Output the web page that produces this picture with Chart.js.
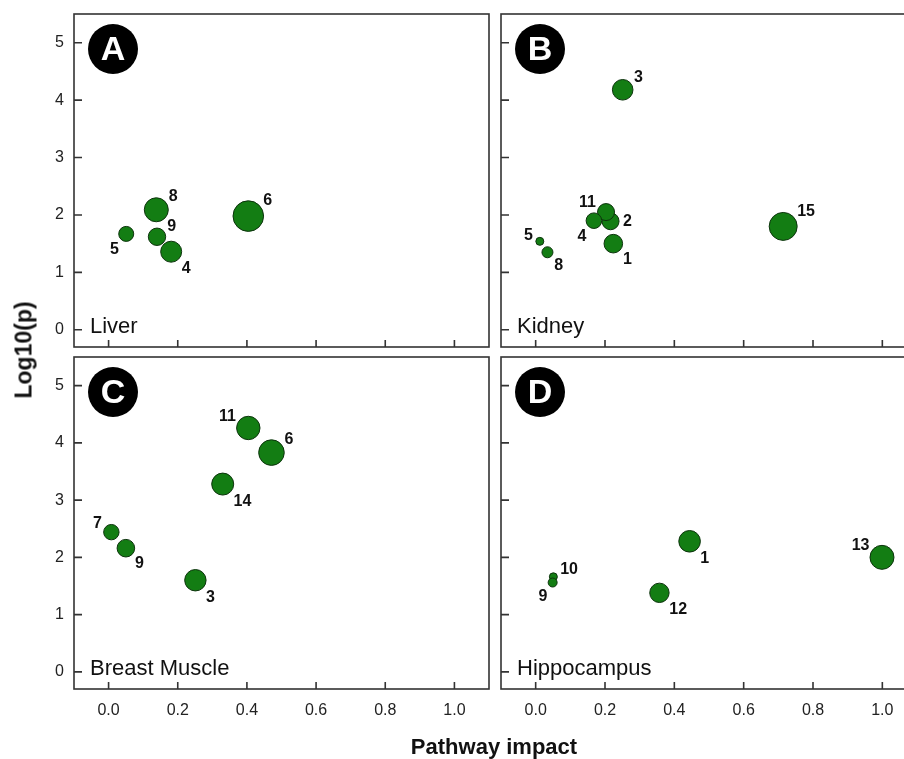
<!DOCTYPE html>
<html lang="en">
<head>
<meta charset="UTF-8">
<title>Pathway impact</title>
<script src="https://cdn.jsdelivr.net/npm/chart.js"></script>
<style>
    html, body { margin: 0; padding: 0; background: #fff; overflow: hidden; width: 904px; height: 759px; }
    body { position: relative; font-family: Arial, "Liberation Sans", sans-serif; }
    canvas { position: absolute; }
    #pA { left: 0; top: 8px; }
    #pB { left: 493px; top: 8px; }
    #pC { left: 0; top: 351px; }
    #pD { left: 493px; top: 351px; }
    .ytitle { position: absolute; left: 24px; top: 350px; transform: translate(-50%, -50%) rotate(-90deg);
              font-weight: bold; font-size: 23px; color: #111; white-space: nowrap; }
    .xtitle { position: absolute; left: 494px; top: 747px; transform: translate(-50%, -50%);
              font-weight: bold; font-size: 22px; color: #111; white-space: nowrap; }
</style>
</head>
<body>
<canvas id="pA" width="495" height="345"></canvas>
<canvas id="pB" width="430" height="345"></canvas>
<canvas id="pC" width="495" height="389"></canvas>
<canvas id="pD" width="430" height="389"></canvas>
<div class="ytitle">Log10(p)</div>
<div class="xtitle">Pathway impact</div>

<script>
    // axis ticks
    const xTickValues = [0, 0.2, 0.4, 0.6, 0.8, 1.0];
    const xTickLabels = ['0.0', '0.2', '0.4', '0.6', '0.8', '1.0'];
    const yTickValues = [0, 1, 2, 3, 4, 5];
    const yTickLabels = ['0', '1', '2', '3', '4', '5'];

    // A - Liver
    const liverIds = ['5', '8', '9', '4', '6'];
    const liverImpact = [0.051, 0.138, 0.140, 0.181, 0.404];
    const liverLogP = [1.67, 2.09, 1.62, 1.36, 1.98];
    const liverSize = [7.5, 12, 8.7, 10.5, 15.3];
    const liverSide = ['sw', 'ne', 'ne', 'se', 'ne'];

    // B - Kidney
    const kidneyIds = ['3', '5', '8', '2', '11', '4', '1', '15'];
    const kidneyImpact = [0.251, 0.012, 0.034, 0.216, 0.203, 0.168, 0.224, 0.714];
    const kidneyLogP = [4.18, 1.54, 1.35, 1.89, 2.05, 1.90, 1.50, 1.80];
    const kidneySize = [10.3, 4, 5.5, 8.5, 8.5, 7.8, 9.3, 14];
    const kidneySide = ['ne', 'nw', 'se', 'e', 'nw', 'sw', 'se', 'ne'];

    // C - Breast Muscle
    const muscleIds = ['11', '6', '14', '7', '9', '3'];
    const muscleImpact = [0.404, 0.471, 0.330, 0.008, 0.050, 0.251];
    const muscleLogP = [4.26, 3.83, 3.28, 2.44, 2.16, 1.60];
    const muscleSize = [11.7, 12.8, 11, 7.7, 8.8, 10.7];
    const muscleSide = ['nw', 'ne', 'se', 'nw', 'se', 'se'];

    // D - Hippocampus
    const hippoIds = ['10', '9', '1', '12', '13'];
    const hippoImpact = [0.051, 0.049, 0.444, 0.357, 0.999];
    const hippoLogP = [1.66, 1.56, 2.28, 1.38, 2.00];
    const hippoSize = [4, 4.5, 10.8, 9.7, 12];
    const hippoSide = ['ne', 'sw', 'se', 'se', 'nw'];

    const FONT = 'Arial, "Liberation Sans", sans-serif';
    Chart.defaults.font.family = FONT;

    // frame, inward ticks, panel letter, tissue name and bubble numbers
    const panelPlugin = {
        id: 'panel',
        afterDraw(chart, args, opts) {
            const { ctx, chartArea: a, scales } = chart;
            ctx.save();

            ctx.strokeStyle = '#333';
            ctx.lineWidth = 1.6;
            ctx.strokeRect(a.left, a.top, a.right - a.left, a.bottom - a.top);

            ctx.beginPath();
            scales.x.ticks.forEach(t => {
                const px = scales.x.getPixelForValue(t.value);
                ctx.moveTo(px, a.bottom);
                ctx.lineTo(px, a.bottom - 7);
            });
            scales.y.ticks.forEach(t => {
                const py = scales.y.getPixelForValue(t.value);
                ctx.moveTo(a.left, py);
                ctx.lineTo(a.left + 8, py);
            });
            ctx.stroke();

            // letter badge
            ctx.fillStyle = '#000';
            ctx.beginPath();
            ctx.arc(a.left + 39, a.top + 35, 25, 0, Math.PI * 2);
            ctx.fill();
            ctx.fillStyle = '#fff';
            ctx.font = 'bold 34px ' + FONT;
            ctx.textAlign = 'center';
            ctx.textBaseline = 'middle';
            ctx.fillText(opts.letter, a.left + 39, a.top + 37);

            // tissue
            ctx.fillStyle = '#111';
            ctx.font = '22px ' + FONT;
            ctx.textAlign = 'left';
            ctx.textBaseline = 'alphabetic';
            ctx.fillText(opts.name, a.left + 16, a.bottom - 14);

            // bubble numbers
            ctx.font = 'bold 16px ' + FONT;
            ctx.fillStyle = '#111';
            chart.getDatasetMeta(0).data.forEach((el, i) => {
                const r = el.options.radius;
                const g = r * 0.71;
                const side = opts.sides[i];
                let x, y;
                if (side === 'ne') { ctx.textAlign = 'left'; x = el.x + g + 4; y = el.y - g; }
                else if (side === 'nw') { ctx.textAlign = 'right'; x = el.x - g - 4; y = el.y - g + 1; }
                else if (side === 'se') { ctx.textAlign = 'left'; x = el.x + g + 3; y = el.y + g + 14; }
                else if (side === 'sw') { ctx.textAlign = 'right'; x = el.x - g - 2; y = el.y + g + 15; }
                else { ctx.textAlign = 'left'; x = el.x + r + 4; y = el.y + 5; }
                ctx.fillText(opts.ids[i], x, y);
            });
            ctx.restore();
        }
    };

    // keep the plot box fixed: no extra room asked for by tick labels
    function noPad(s) {
        s.paddingTop = 0; s.paddingBottom = 0; s.paddingLeft = 0; s.paddingRight = 0;
    }

    function makePanel(canvasId, p) {
        return new Chart(document.getElementById(canvasId), {
            type: 'bubble',
            data: {
                datasets: [{
                    data: p.x.map((v, i) => ({ x: v, y: p.y[i], r: p.r[i] })),
                    backgroundColor: '#137d13',
                    borderColor: '#0d330d',
                    borderWidth: 1,
                    hoverRadius: 0
                }]
            },
            options: {
                responsive: false,
                animation: false,
                events: [],
                layout: { autoPadding: false, padding: { top: 6, right: 6, left: 0, bottom: 0 } },
                plugins: {
                    legend: { display: false },
                    tooltip: { enabled: false },
                    panel: { letter: p.letter, name: p.name, ids: p.ids, sides: p.sides }
                },
                scales: {
                    x: {
                        type: 'linear', min: -0.1, max: 1.1,
                        grid: { display: false, drawTicks: false },
                        border: { display: false },
                        afterBuildTicks: s => { s.ticks = xTickValues.map(v => ({ value: v })); },
                        ticks: {
                            display: p.showX, padding: 12, color: '#222', font: { size: 16 },
                            callback: (v, i) => xTickLabels[i]
                        },
                        afterFit: s => { s.height = p.padB; noPad(s); }
                    },
                    y: {
                        type: 'linear', min: -0.3, max: 5.5,
                        grid: { display: false, drawTicks: false },
                        border: { display: false },
                        afterBuildTicks: s => { s.ticks = yTickValues.map(v => ({ value: v })); },
                        ticks: {
                            display: p.showY, padding: 10, color: '#222', font: { size: 16 },
                            callback: (v, i) => yTickLabels[i]
                        },
                        afterFit: s => { s.width = p.padL; noPad(s); }
                    }
                }
            },
            plugins: [panelPlugin]
        });
    }

    makePanel('pA', { letter: 'A', name: 'Liver', ids: liverIds, sides: liverSide,
        x: liverImpact, y: liverLogP, r: liverSize, showX: false, showY: true, padL: 74, padB: 6 });
    makePanel('pB', { letter: 'B', name: 'Kidney', ids: kidneyIds, sides: kidneySide,
        x: kidneyImpact, y: kidneyLogP, r: kidneySize, showX: false, showY: false, padL: 8, padB: 6 });
    makePanel('pC', { letter: 'C', name: 'Breast Muscle', ids: muscleIds, sides: muscleSide,
        x: muscleImpact, y: muscleLogP, r: muscleSize, showX: true, showY: true, padL: 74, padB: 51 });
    makePanel('pD', { letter: 'D', name: 'Hippocampus', ids: hippoIds, sides: hippoSide,
        x: hippoImpact, y: hippoLogP, r: hippoSize, showX: true, showY: false, padL: 8, padB: 51 });
</script>
</body>
</html>
